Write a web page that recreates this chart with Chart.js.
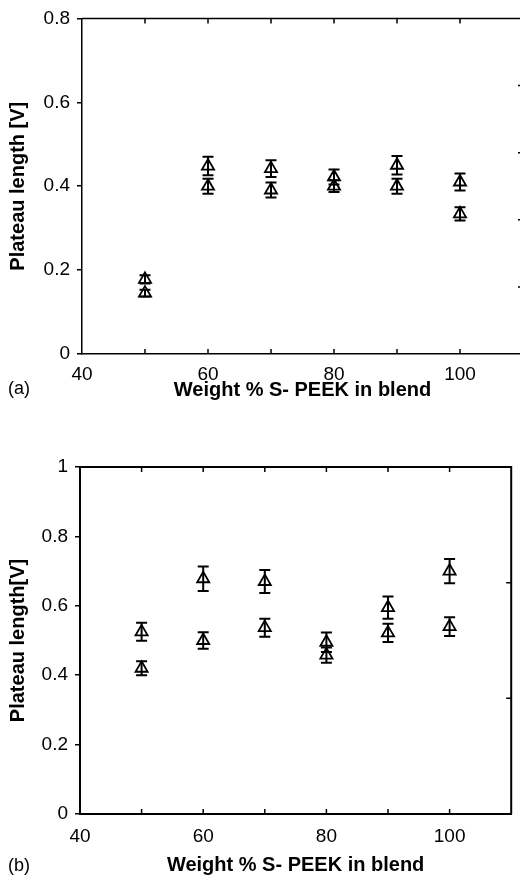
<!DOCTYPE html>
<html><head><meta charset="utf-8">
<script src="https://cdn.jsdelivr.net/npm/chart.js@4"></script>
<style>
html,body{margin:0;padding:0;background:#fff;overflow:hidden;width:520px;height:879px;position:relative}
#ca{position:absolute;left:0;top:0}
#cb{position:absolute;left:0;top:440px}
.lab{position:absolute;font:18px "Liberation Sans",Arial,sans-serif;color:#000;line-height:20px}
</style></head><body>
<canvas id="ca" width="540" height="420"></canvas>
<canvas id="cb" width="520" height="439"></canvas>
<div class="lab" style="left:8px;top:378px">(a)</div>
<div class="lab" style="left:8px;top:855px">(b)</div>
<script>
// ---- data ----
const weightPct = [50, 60, 70, 80, 90, 100];
const plateauA_upper    = [0.178, 0.448, 0.442, 0.422, 0.450, 0.410];
const plateauA_upperErr = [0.010, 0.022, 0.020, 0.018, 0.022, 0.020];
const plateauA_lower    = [0.145, 0.400, 0.391, 0.400, 0.400, 0.334];
const plateauA_lowerErr = [0.008, 0.018, 0.018, 0.014, 0.018, 0.016];
const plateauB_upper    = [0.525, 0.678, 0.670, 0.495, 0.595, 0.700];
const plateauB_upperErr = [0.026, 0.035, 0.033, 0.028, 0.032, 0.035];
const plateauB_lower    = [0.420, 0.500, 0.537, 0.458, 0.522, 0.540];
const plateauB_lowerErr = [0.020, 0.024, 0.026, 0.022, 0.026, 0.027];
const xTitle = 'Weight % S- PEEK in blend';
const yTitleA = 'Plateau length [V]';
const yTitleB = 'Plateau length[V]';
const rightTicksA = [0.2, 0.4, 0.6, 0.8];   // secondary (unlabelled) axis, 0..1
const rightTicksB = [0.5, 1.0];             // secondary (unlabelled) axis, 0..1.5

Chart.defaults.font.family = '"Liberation Sans", Arial, sans-serif';
Chart.defaults.color = '#000';
Chart.defaults.animation = false;

const errorBarPlugin = {
  id: 'errorBars',
  afterDatasetsDraw(chart, args, opts) {
    const {ctx} = chart; const ys = chart.scales.y;
    ctx.save();
    ctx.strokeStyle = '#000'; ctx.lineWidth = opts.lw || 1.5;
    chart.data.datasets.forEach((ds, i) => {
      const meta = chart.getDatasetMeta(i);
      meta.data.forEach((pt, j) => {
        const v = ds.data[j].y, e = ds.errors[j];
        const t = ys.getPixelForValue(v + e), b = ys.getPixelForValue(v - e);
        const c = opts.cap || 5;
        ctx.beginPath();
        ctx.moveTo(pt.x, t); ctx.lineTo(pt.x, b);
        ctx.moveTo(pt.x - c, t); ctx.lineTo(pt.x + c, t);
        ctx.moveTo(pt.x - c, b); ctx.lineTo(pt.x + c, b);
        ctx.stroke();
      });
    });
    ctx.restore();
  }
};

const framePlugin = {
  id: 'frame',
  afterDraw(chart, args, opts) {
    const {ctx, chartArea: a, scales} = chart;
    ctx.save();
    ctx.strokeStyle = '#000'; ctx.lineWidth = opts.lw;
    ctx.beginPath();
    ctx.moveTo(a.left, a.top); ctx.lineTo(a.right, a.top); ctx.lineTo(a.right, a.bottom);
    ctx.stroke();
    ctx.lineWidth = opts.tickLw;
    ctx.beginPath();
    const xs = scales.x;
    xs.ticks.map(t => t.value).filter(v => v > xs.min && v < xs.max).forEach(v => {
      const px = xs.getPixelForValue(v);
      ctx.moveTo(px, a.bottom); ctx.lineTo(px, a.bottom - opts.len);
      ctx.moveTo(px, a.top); ctx.lineTo(px, a.top + opts.len);
    });
    (opts.rightTicks || []).forEach(v => {
      const py = scales.y2.getPixelForValue(v);
      ctx.moveTo(a.right, py); ctx.lineTo(a.right - opts.len, py);
    });
    ctx.stroke();
    ctx.restore();
  }
};

function ds(ys, errs) {
  return {
    data: weightPct.map((x, i) => ({x, y: ys[i]})),
    errors: errs,
    showLine: false,
    pointStyle: 'triangle',
    pointRadius: 7,
    pointBorderWidth: 1.8,
    pointBorderColor: '#000',
    pointBackgroundColor: 'rgba(0,0,0,0)'
  };
}

function makeChart(id, cfg) {
  return new Chart(document.getElementById(id), {
    type: 'scatter',
    data: {datasets: [ds(cfg.up, cfg.upE), ds(cfg.lo, cfg.loE)]},
    plugins: [errorBarPlugin, framePlugin],
    options: {
      responsive: false,
      events: [],
      layout: {padding: cfg.pad},
      plugins: {
        legend: {display: false}, tooltip: {enabled: false},
        errorBars: {lw: 2, cap: 5.5},
        frame: {lw: cfg.lw, tickLw: 1.5, len: 5, rightTicks: cfg.rightTicks}
      },
      scales: {
        x: {
          type: 'linear', min: 40, max: 110,
          afterFit: s => { s.height = cfg.xH; },
          grid: {display: false},
          border: {display: true, color: '#000', width: cfg.lw},
          ticks: {stepSize: 10, autoSkip: false, maxRotation: 0, padding: cfg.xPad,
                  font: {size: 19}, color: '#000',
                  callback: v => (v % 20 === 0 && v <= 100) ? String(v) : ''},
          title: {display: true, text: xTitle, color: '#000',
                  font: {size: 20, weight: 'bold'}, padding: {top: 0, bottom: cfg.xTitlePad}}
        },
        y: {
          min: 0, max: cfg.yMax,
          afterFit: s => { s.width = cfg.yW; },
          grid: {display: true, drawOnChartArea: false, drawTicks: true, tickLength: 5, color: '#000', lineWidth: 1.5},
          border: {display: true, color: '#000', width: cfg.lw},
          ticks: {stepSize: 0.2, padding: 7, font: {size: 19}, color: '#000',
                  callback: v => String(+v.toFixed(1))},
          title: {display: true, text: cfg.yTitle, color: '#000',
                  font: {size: 20, weight: 'bold'}, padding: {top: cfg.yTitlePad, bottom: 0}}
        },
        y2: {display: false, position: 'right', min: 0, max: cfg.y2Max}
      }
    }
  });
}

makeChart('ca', {
  up: plateauA_upper, upE: plateauA_upperErr, lo: plateauA_lower, loE: plateauA_lowerErr,
  pad: {top: 18, right: 17, left: 0, bottom: 0}, xH: 66, yW: 82, lw: 1.5,
  yMax: 0.8, y2Max: 1, rightTicks: rightTicksA, yTitle: yTitleA,
  xPad: 1, xTitlePad: 18, yTitlePad: 6
});
makeChart('cb', {
  up: plateauB_upper, upE: plateauB_upperErr, lo: plateauB_lower, loE: plateauB_lowerErr,
  pad: {top: 27, right: 7, left: 0, bottom: 0}, xH: 65, yW: 80, lw: 2,
  yMax: 1, y2Max: 1.5, rightTicks: rightTicksB, yTitle: yTitleB,
  xPad: 3, xTitlePad: 2, yTitlePad: 6
});
</script>
</body></html>
